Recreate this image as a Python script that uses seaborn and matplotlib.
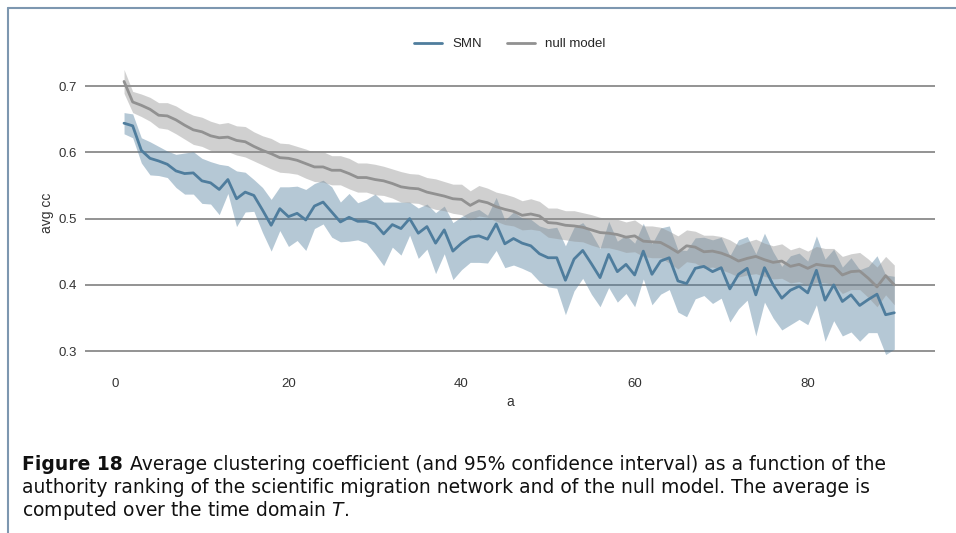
import numpy as np
import pandas as pd
import matplotlib
matplotlib.use("Agg")
import matplotlib.pyplot as plt
from matplotlib.lines import Line2D
import seaborn as sns

# authority ranking a = 1..90
rank = list(range(1, 91))

smn_mean = [
    0.644, 0.640, 0.603, 0.591, 0.587, 0.582, 0.572, 0.568, 0.569, 0.557,
    0.554, 0.544, 0.559, 0.530, 0.540, 0.535, 0.513, 0.490, 0.515, 0.503,
    0.508, 0.498, 0.519, 0.525, 0.510, 0.495, 0.502, 0.496, 0.496, 0.492,
    0.477, 0.491, 0.485, 0.500, 0.478, 0.488, 0.463, 0.483, 0.451, 0.463,
    0.472, 0.474, 0.469, 0.492, 0.462, 0.470, 0.463, 0.459, 0.447, 0.441,
    0.441, 0.407, 0.439, 0.452, 0.432, 0.411, 0.446, 0.420, 0.431, 0.415,
    0.451, 0.416, 0.436, 0.441, 0.406, 0.402, 0.425, 0.428, 0.420, 0.426,
    0.394, 0.416, 0.425, 0.385, 0.426, 0.400, 0.380, 0.392, 0.398, 0.388,
    0.422, 0.377, 0.400, 0.375, 0.385, 0.369, 0.378, 0.386, 0.355, 0.358,
]
# half width of the 95% confidence interval
smn_ci = [
    0.016, 0.018, 0.019, 0.025, 0.022, 0.020, 0.025, 0.031, 0.032, 0.034,
    0.032, 0.038, 0.021, 0.042, 0.030, 0.024, 0.034, 0.039, 0.033, 0.045,
    0.041, 0.046, 0.034, 0.033, 0.038, 0.030, 0.036, 0.028, 0.033, 0.045,
    0.048, 0.034, 0.040, 0.025, 0.038, 0.034, 0.046, 0.036, 0.043, 0.040,
    0.038, 0.040, 0.036, 0.040, 0.036, 0.040, 0.038, 0.040, 0.042, 0.044,
    0.046, 0.052, 0.048, 0.042, 0.046, 0.044, 0.050, 0.046, 0.044, 0.048,
    0.042, 0.046, 0.050, 0.048, 0.047, 0.050, 0.046, 0.044, 0.048, 0.046,
    0.050, 0.052, 0.048, 0.062, 0.052, 0.050, 0.048, 0.052, 0.050, 0.048,
    0.052, 0.062, 0.054, 0.052, 0.056, 0.054, 0.050, 0.058, 0.060, 0.055,
]

null_mean = [
    0.707, 0.676, 0.671, 0.665, 0.656, 0.655, 0.649, 0.641, 0.634, 0.631,
    0.625, 0.622, 0.623, 0.618, 0.616, 0.609, 0.603, 0.598, 0.592, 0.591,
    0.588, 0.583, 0.578, 0.578, 0.573, 0.573, 0.568, 0.562, 0.562, 0.559,
    0.557, 0.553, 0.548, 0.546, 0.545, 0.540, 0.537, 0.534, 0.530, 0.529,
    0.520, 0.527, 0.524, 0.518, 0.514, 0.511, 0.505, 0.507, 0.504, 0.494,
    0.493, 0.490, 0.489, 0.487, 0.483, 0.479, 0.478, 0.476, 0.472, 0.474,
    0.466, 0.465, 0.464, 0.457, 0.449, 0.459, 0.457, 0.450, 0.451, 0.448,
    0.443, 0.436, 0.440, 0.443, 0.438, 0.434, 0.436, 0.428, 0.431, 0.425,
    0.431, 0.429, 0.428, 0.415, 0.420, 0.421, 0.410, 0.397, 0.414, 0.400,
]
null_ci = [
    0.018, 0.016, 0.017, 0.018, 0.019, 0.020, 0.021, 0.021, 0.022, 0.022,
    0.022, 0.021, 0.022, 0.022, 0.023, 0.022, 0.022, 0.023, 0.022, 0.022,
    0.021, 0.022, 0.022, 0.023, 0.022, 0.022, 0.023, 0.022, 0.022, 0.023,
    0.022, 0.022, 0.023, 0.022, 0.022, 0.022, 0.023, 0.022, 0.022, 0.023,
    0.022, 0.023, 0.022, 0.022, 0.023, 0.022, 0.022, 0.023, 0.022, 0.022,
    0.023, 0.022, 0.023, 0.022, 0.023, 0.023, 0.022, 0.023, 0.023, 0.024,
    0.023, 0.024, 0.023, 0.024, 0.025, 0.024, 0.024, 0.025, 0.024, 0.025,
    0.025, 0.024, 0.025, 0.026, 0.025, 0.025, 0.026, 0.025, 0.026, 0.026,
    0.027, 0.026, 0.027, 0.028, 0.027, 0.028, 0.029, 0.030, 0.029, 0.030,
]

series_names = ["SMN", "null model"]
colors = {"SMN": "#4f7d9d", "null model": "#919191"}

df = pd.concat([
    pd.DataFrame({"a": rank, "avg cc": smn_mean, "ci": smn_ci, "series": "SMN"}),
    pd.DataFrame({"a": rank, "avg cc": null_mean, "ci": null_ci, "series": "null model"}),
])

sns.set_style("white")
plt.rcParams["font.family"] = ["Liberation Sans", "DejaVu Sans"]

fig = plt.figure(figsize=(9.56, 5.33), dpi=100)
ax = fig.add_axes([0.089, 0.315, 0.889, 0.572])

# confidence bands
for name in series_names:
    d = df[df["series"] == name]
    ax.fill_between(d["a"], d["avg cc"] - d["ci"], d["avg cc"] + d["ci"],
                    color=colors[name], alpha=0.42, lw=0)

sns.lineplot(data=df, x="a", y="avg cc", hue="series", hue_order=series_names,
             palette=colors, lw=2, ax=ax)

ax.set_xlim(-3.5, 94.7)
ax.set_ylim(0.279, 0.739)
ax.set_xticks([0, 20, 40, 60, 80])
ax.set_yticks([0.3, 0.4, 0.5, 0.6, 0.7])
ax.yaxis.grid(True, color="#8a8a8a", lw=1.3)
ax.xaxis.grid(False)
ax.set_axisbelow(True)
for s in ax.spines.values():
    s.set_visible(False)
ax.tick_params(axis="both", length=0, labelsize=9.5, colors="#333333")
ax.tick_params(axis="x", pad=9)
ax.tick_params(axis="y", pad=6)
ax.set_xlabel("a", fontsize=10, color="#333333", labelpad=4)
ax.set_ylabel("avg cc", fontsize=10, color="#333333", labelpad=3)

sns.move_legend(ax, "center", bbox_to_anchor=(0.5, 1.052), ncol=2,
                frameon=False, title=None, fontsize=9.5,
                handlelength=2.1, handletextpad=0.8, columnspacing=1.9)

# page frame
fig.add_artist(Line2D([8 / 956, 1.0], [1 - 8 / 533, 1 - 8 / 533],
                      transform=fig.transFigure, color="#7d97b0", lw=1.5))
fig.add_artist(Line2D([8 / 956, 8 / 956], [0, 1 - 8 / 533],
                      transform=fig.transFigure, color="#7d97b0", lw=1.5))

# caption
cap_font = ["DejaVu Sans"]
cap_size = 13.5
x0 = 22 / 956
t1 = fig.text(x0, 1 - 470 / 533, "Figure 18", fontsize=cap_size, family=cap_font,
              fontweight="bold", va="baseline", color="#111111")
ax.annotate("Average clustering coefficient (and 95% confidence interval) as a function of the",
            xy=(1, 0), xycoords=t1, xytext=(5, 0), textcoords="offset points",
            fontsize=cap_size, family=cap_font, va="bottom", color="#111111",
            annotation_clip=False)
fig.text(x0, 1 - 493 / 533,
         "authority ranking of the scientific migration network and of the null model. The average is",
         fontsize=cap_size, family=cap_font, va="baseline", color="#111111")
fig.text(x0, 1 - 516 / 533, "computed over the time domain $T$.",
         fontsize=cap_size, family=cap_font, va="baseline", color="#111111")

fig.savefig("out.png", dpi=100)
